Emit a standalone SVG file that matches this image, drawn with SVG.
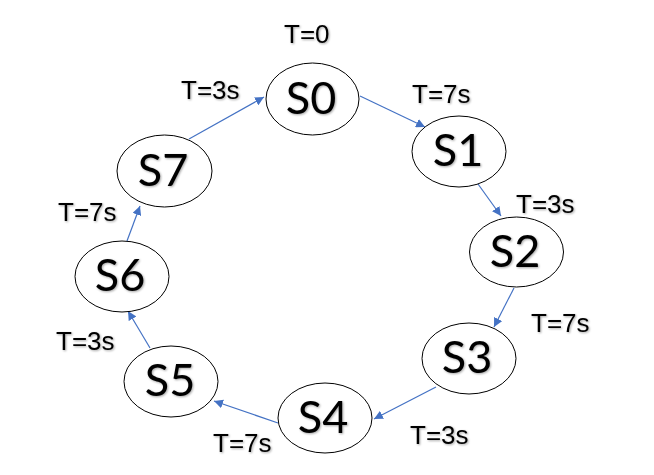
<svg xmlns="http://www.w3.org/2000/svg" width="654" height="475" viewBox="0 0 654 475">
<style>
.node ellipse{fill:#fff;stroke:#000;stroke-width:1}
.node text{font-family:Lato,"Open Sans",sans-serif;font-size:45px;fill:#000;text-anchor:middle;filter:url(#sh)}
.lbl{font-family:"Liberation Sans",Arial,sans-serif;font-size:26px;fill:#000;filter:url(#sh)}
.edges line{stroke:#4472C4;stroke-width:1.2;marker-end:url(#ah)}
</style>
<defs>
<marker id="ah" viewBox="0 0 10 10" refX="10" refY="5" markerWidth="9" markerHeight="9" markerUnits="userSpaceOnUse" orient="auto">
<path d="M0,0 L10,5 L0,10 Z" fill="#4472C4"/>
</marker>
<filter id="sh" x="-20%" y="-20%" width="140%" height="140%">
<feDropShadow dx="1" dy="1" stdDeviation="0.8" flood-color="#000" flood-opacity="0.35"/>
</filter>
</defs>
<rect width="654" height="475" fill="#fff"/>
<g class="edges">
<line x1="360" y1="96" x2="425" y2="127"/>
<line x1="478" y1="184" x2="501" y2="216"/>
<line x1="514" y1="288" x2="494" y2="327"/>
<line x1="436" y1="387" x2="374" y2="419"/>
<line x1="278" y1="423" x2="214" y2="401"/>
<line x1="150" y1="348" x2="128" y2="311"/>
<line x1="127" y1="241" x2="140" y2="206"/>
<line x1="189" y1="139" x2="264" y2="97"/>
</g>
<g id="S0" class="node"><ellipse cx="312.5" cy="99" rx="46.5" ry="36"/><text x="311" y="114">S0</text></g>
<g id="S1" class="node"><ellipse cx="459" cy="151.5" rx="47" ry="35.5"/><text x="458" y="166">S1</text></g>
<g id="S2" class="node"><ellipse cx="516.5" cy="252" rx="47" ry="35"/><text x="515" y="267">S2</text></g>
<g id="S3" class="node"><ellipse cx="469" cy="358.5" rx="47" ry="35.5"/><text x="467" y="373">S3</text></g>
<g id="S4" class="node"><ellipse cx="325" cy="418" rx="47" ry="35"/><text x="323" y="433">S4</text></g>
<g id="S5" class="node"><ellipse cx="171" cy="381.5" rx="47" ry="35.5"/><text x="170" y="396">S5</text></g>
<g id="S6" class="node"><ellipse cx="122" cy="276.5" rx="47" ry="35.5"/><text x="120" y="291">S6</text></g>
<g id="S7" class="node"><ellipse cx="164.5" cy="171" rx="47.5" ry="36"/><text x="163" y="186">S7</text></g>
<g id="labels">
<text class="lbl" x="284" y="43">T=0</text>
<text class="lbl" x="412" y="103">T=7s</text>
<text class="lbl" x="516" y="213">T=3s</text>
<text class="lbl" x="531" y="332">T=7s</text>
<text class="lbl" x="410" y="444">T=3s</text>
<text class="lbl" x="213" y="452">T=7s</text>
<text class="lbl" x="56" y="350">T=3s</text>
<text class="lbl" x="58" y="221">T=7s</text>
<text class="lbl" x="181" y="99">T=3s</text>
</g>
</svg>
